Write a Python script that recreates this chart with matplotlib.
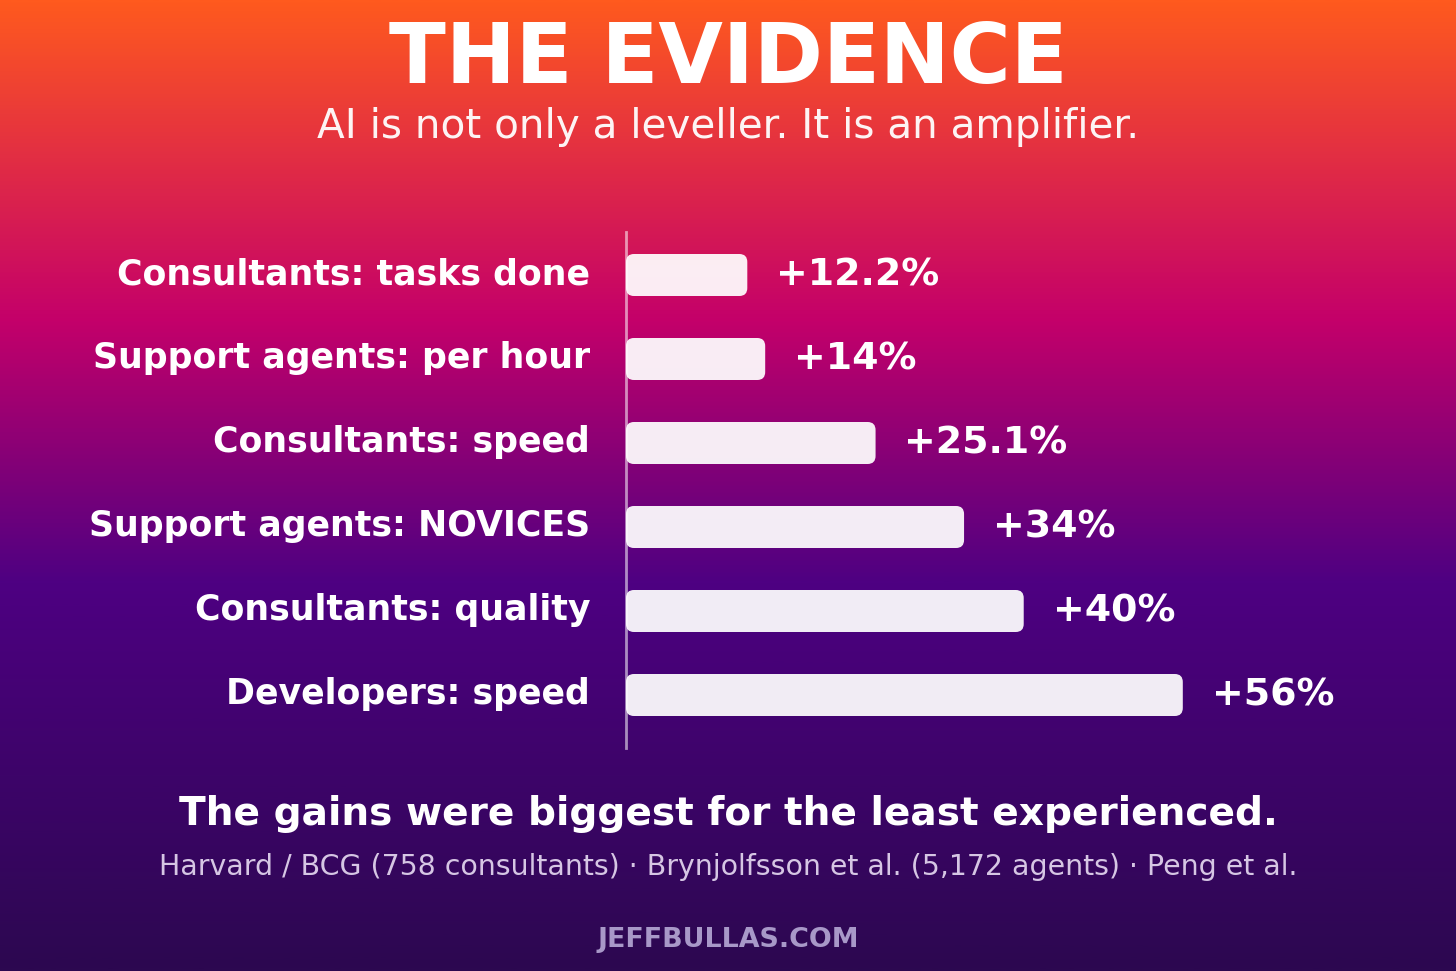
import numpy as np
import matplotlib
matplotlib.use("Agg")
import matplotlib.pyplot as plt
from matplotlib.colors import LinearSegmentedColormap
from matplotlib.patches import FancyBboxPatch

plt.rcParams['font.family'] = ['DejaVu Sans']

# data
categories = ["Consultants: tasks done", "Support agents: per hour", "Consultants: speed",
              "Support agents: NOVICES", "Consultants: quality", "Developers: speed"]
gains = [12.2, 14, 25.1, 34, 40, 56]
value_labels = ["+12.2%", "+14%", "+25.1%", "+34%", "+40%", "+56%"]

W, H = 1456, 971
fig = plt.figure(figsize=(W / 100, H / 100), dpi=100)

# gradient background
bg = fig.add_axes([0, 0, 1, 1])
cmap = LinearSegmentedColormap.from_list("bg", [(0.0, "#FF5A1E"), (0.33, "#C4006A"),
                                                (0.6, "#4E0082"), (1.0, "#2C0850")])
grad = np.linspace(0, 1, 512).reshape(-1, 1)
bg.imshow(grad, aspect="auto", cmap=cmap, extent=[0, 1, 0, 1], origin="upper")
bg.set_axis_off()

# chart axes: x=0 at px 626, bars centred at 275..695
ax = fig.add_axes([626 / W, 1 - 748 / H, (1322 - 626) / W, (748 - 232) / H])
ax.patch.set_alpha(0)
ax.set_xlim(0, 70)
ax.set_ylim(5 + 53 / 84, -43 / 84)

bar_h = 0.5
for i, (v, lab) in enumerate(zip(gains, value_labels)):
    box = FancyBboxPatch((0, i - bar_h / 2), v, bar_h,
                         boxstyle="round,pad=0,rounding_size=0.8",
                         mutation_aspect=0.119, fc="white", ec="none", alpha=0.93, zorder=3)
    ax.add_patch(box)
    ax.text(v + 2.9, i, lab, ha="left", va="center", color="white",
            fontsize=27.3, fontweight="bold")
    ax.text(-3.6, i - 0.01, categories[i], ha="right", va="center", color="white",
            fontsize=25, fontweight="bold")

for s in ["top", "right", "bottom"]:
    ax.spines[s].set_visible(False)
ax.spines["left"].set_color((1, 1, 1, 0.55))
ax.spines["left"].set_linewidth(2)
ax.set_xticks([])
ax.set_yticks([])

# titles and footer
fig.text(0.5, 1 - 60 / H, "THE EVIDENCE", ha="center", va="center", color="white",
         fontsize=60, fontweight="bold")
fig.text(0.5, 1 - 127 / H, "AI is not only a leveller. It is an amplifier.", ha="center",
         va="center", color=(1, 1, 1, 0.95), fontsize=29.2)
fig.text(0.5, 1 - 814 / H, "The gains were biggest for the least experienced.", ha="center",
         va="center", color="white", fontsize=28.2, fontweight="bold")
fig.text(0.5, 1 - 867 / H,
         "Harvard / BCG (758 consultants) \u00b7 Brynjolfsson et al. (5,172 agents) \u00b7 Peng et al.",
         ha="center", va="center", color="#D6C6E4", fontsize=20.4)
fig.text(0.5, 1 - 940 / H, "JEFFBULLAS.COM", ha="center", va="center", color="#A898C8",
         fontsize=19.4, fontweight="bold")

fig.savefig("out.png", dpi=100)
